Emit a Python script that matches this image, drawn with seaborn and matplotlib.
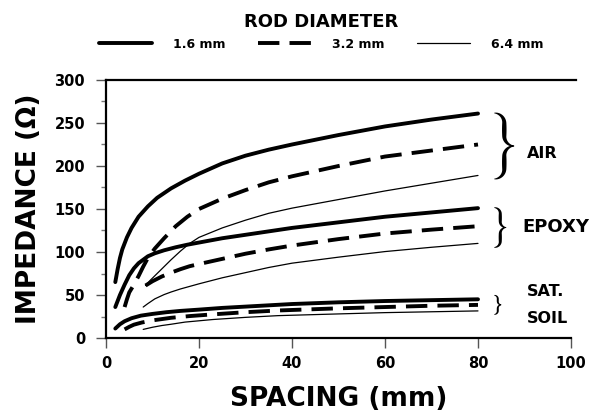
import numpy as np
import pandas as pd
import matplotlib
matplotlib.use("Agg")
import matplotlib.pyplot as plt
import seaborn as sns
from matplotlib.lines import Line2D
from matplotlib.ticker import MultipleLocator

# ---------------- data ----------------
media = ["AIR", "EPOXY", "SAT. SOIL"]
diameters = ["1.6 mm", "3.2 mm", "6.4 mm"]

air_16_x = [2, 2.5, 3, 3.5, 4.5, 5.5, 7, 9, 11, 14, 17, 20, 25, 30, 35, 40, 50, 60, 70, 80]
air_16_y = [65, 80, 93, 103, 117, 128, 141, 153, 163, 174, 183, 191, 203, 212, 219, 225, 236, 246, 254, 261]
air_32_x = [4, 4.5, 5, 6, 7, 8, 9, 10.5, 12.5, 15, 17.5, 20, 25, 30, 35, 40, 50, 60, 70, 80]
air_32_y = [36, 45, 53, 62, 72, 83, 93, 104, 116, 130, 141, 150, 162, 172, 181, 188, 200, 211, 218, 225]
air_64_x = [8.5, 9.5, 11, 12.5, 14, 16, 18, 20, 25, 30, 35, 40, 50, 60, 70, 80]
air_64_y = [61, 67, 75, 83, 91, 101, 110, 117, 128, 137, 145, 151, 161, 171, 180, 189]

epoxy_16_x = [2, 3, 4, 5, 6, 7, 8, 9, 10.5, 12.5, 15, 17.5, 20, 25, 30, 35, 40, 50, 60, 70, 80]
epoxy_16_y = [36, 50, 62, 73, 81, 87, 91, 95, 98.5, 102, 105.5, 108.5, 111, 116, 120, 124, 128, 134.5, 141, 146, 151]
epoxy_32_x = [8.5, 10, 12, 14, 16, 18, 20, 25, 30, 35, 40, 50, 60, 70, 80]
epoxy_32_y = [61, 66, 71.5, 76, 80, 83.5, 86, 92, 98, 103, 107.5, 115, 121.5, 126, 130]
epoxy_64_x = [8, 9, 10.5, 12.5, 14, 16, 18, 20, 25, 30, 35, 40, 50, 60, 70, 80]
epoxy_64_y = [36, 40, 45.5, 50.5, 53.5, 57, 60, 63, 70, 76, 82, 87, 94, 100.5, 105.5, 110]

soil_16_x = [2, 3, 4, 5.5, 7.5, 10, 13, 16, 20, 25, 30, 40, 50, 60, 70, 80]
soil_16_y = [11, 16, 19.5, 23, 26, 28, 30, 31.5, 33, 35, 36.5, 39.5, 41.5, 43, 44, 45]
soil_32_x = [4, 5, 6, 7.7, 10, 14, 18, 23, 30, 37, 50, 60, 70, 80]
soil_32_y = [10, 13, 15.5, 18, 20.5, 23.5, 25.5, 27.5, 30, 32, 34.5, 36, 37.5, 38.5]
soil_64_x = [8, 10, 12, 14, 17, 20, 23, 30, 37, 50, 60, 70, 80]
soil_64_y = [10, 12.5, 14.5, 16, 18.5, 20, 21.5, 24, 26, 28, 29.5, 30.5, 31.5]

x_ticks = [0, 20, 40, 60, 80, 100]
y_ticks = [0, 50, 100, 150, 200, 250, 300]

series = {
    ("AIR", "1.6 mm"): (air_16_x, air_16_y),
    ("AIR", "3.2 mm"): (air_32_x, air_32_y),
    ("AIR", "6.4 mm"): (air_64_x, air_64_y),
    ("EPOXY", "1.6 mm"): (epoxy_16_x, epoxy_16_y),
    ("EPOXY", "3.2 mm"): (epoxy_32_x, epoxy_32_y),
    ("EPOXY", "6.4 mm"): (epoxy_64_x, epoxy_64_y),
    ("SAT. SOIL", "1.6 mm"): (soil_16_x, soil_16_y),
    ("SAT. SOIL", "3.2 mm"): (soil_32_x, soil_32_y),
    ("SAT. SOIL", "6.4 mm"): (soil_64_x, soil_64_y),
}

rows = []
for (m, d), (xs, ys) in series.items():
    for xv, yv in zip(xs, ys):
        rows.append({"medium": m, "diameter": d, "spacing": xv, "impedance": yv})
df = pd.DataFrame(rows)
df["unit"] = df["medium"] + " " + df["diameter"]

# ---------------- style ----------------
sns.set_theme(style="ticks")
plt.rcParams["font.family"] = ["DejaVu Sans"]
plt.rcParams["font.weight"] = "bold"
plt.rcParams["text.color"] = "black"
plt.rcParams["axes.labelcolor"] = "black"
plt.rcParams["xtick.labelcolor"] = "black"
plt.rcParams["ytick.labelcolor"] = "black"

W, H = 599, 419
fig = plt.figure(figsize=(W / 100, H / 100), dpi=100)
ax = fig.add_axes([106 / W, 1 - 338 / H, (571 - 106) / W, (338 - 80) / H])

sizes = {"1.6 mm": 2.8, "3.2 mm": 2.8, "6.4 mm": 0.9}
dash_map = {"1.6 mm": "", "3.2 mm": (5.5, 2.6), "6.4 mm": ""}

sns.lineplot(data=df, x="spacing", y="impedance", units="unit", estimator=None,
             style="diameter", style_order=diameters, dashes=dash_map,
             size="diameter", size_order=diameters, sizes=sizes,
             color="black", legend=False, ax=ax)
for ln in ax.get_lines():
    ln.set_solid_joinstyle("round")
    ln.set_dash_joinstyle("round")

ax.set_xlim(0, 100)
ax.set_ylim(0, 300)
ax.set_xticks(x_ticks)
ax.set_yticks(y_ticks)
ax.yaxis.set_minor_locator(MultipleLocator(25))
ax.tick_params(axis="both", which="major", length=7, width=1.0, color="#555555",
               labelsize=10.5, direction="out", labelcolor="black")
ax.tick_params(axis="y", which="major", pad=8)
ax.tick_params(axis="x", which="major", pad=6)
ax.tick_params(axis="y", which="minor", length=3.6, width=1.0, color="#777777",
               direction="out")
for lab in ax.get_xticklabels() + ax.get_yticklabels():
    lab.set_fontweight("bold")

for side in ["left", "bottom", "top"]:
    ax.spines[side].set_linewidth(1.6)
    ax.spines[side].set_color("black")
ax.spines["right"].set_visible(False)
ax.spines["top"].set_bounds(0, 101)

ax.set_xlabel("SPACING (mm)", fontsize=19, fontweight="bold", labelpad=11)
ax.set_ylabel("IMPEDANCE (\u03a9)", fontsize=19, fontweight="bold", labelpad=9)


# ---------------- braces ----------------
def draw_brace(ax, x_left, y_lo, y_hi, width_px, tmax, pad_lo, pad_hi, tmin=0.6):
    trans = ax.transData
    px0, p_lo = trans.transform((x_left, y_lo))
    _, p_hi = trans.transform((x_left, y_hi))
    p_lo -= pad_lo
    p_hi += pad_hi
    ym = (p_lo + p_hi) / 2.0
    r = width_px / 2.0
    a1 = np.linspace(np.pi / 2, 0, 30)
    arc1 = np.column_stack([px0 + r * np.cos(a1), p_hi - r + r * np.sin(a1)])
    vert = np.column_stack([np.full(20, px0 + r), np.linspace(p_hi - r, ym + r, 20)])
    a2 = np.linspace(np.pi, 1.5 * np.pi, 30)
    arc2 = np.column_stack([px0 + 2 * r + r * np.cos(a2), ym + r + r * np.sin(a2)])
    top = np.vstack([arc1, vert[1:], arc2[1:]])
    seg = np.sqrt((np.diff(top, axis=0) ** 2).sum(axis=1))
    s = np.concatenate([[0], np.cumsum(seg)])
    s /= s[-1]
    thick = tmin + (tmax - tmin) * np.sin(np.pi * s) ** 0.9
    bot = top.copy()
    bot[:, 1] = 2 * ym - bot[:, 1]
    center = np.vstack([top, bot[::-1][1:]])
    th = np.concatenate([thick, thick[::-1][1:]])
    d = np.gradient(center, axis=0)
    n = np.column_stack([-d[:, 1], d[:, 0]])
    n /= np.linalg.norm(n, axis=1)[:, None] + 1e-9
    left = center + n * th[:, None] / 2
    right = center - n * th[:, None] / 2
    poly = np.vstack([left, right[::-1]])
    data_poly = trans.inverted().transform(poly)
    ax.fill(data_poly[:, 0], data_poly[:, 1], color="black", lw=0, clip_on=False)


brace_x = 83.5
# width px, max thickness px, pad below px, pad above px
brace_specs = {"AIR": (20, 4.5, 3.5, 0.5), "EPOXY": (12, 3.2, 4, 0.5),
               "SAT. SOIL": (7, 2.0, 3.5, 4)}
for m in media:
    ends = [series[(m, d)][1][-1] for d in diameters]
    wpx, tmax, plo, phi = brace_specs[m]
    draw_brace(ax, brace_x, min(ends), max(ends), wpx, tmax, plo, phi)

ax.text(90.5, 215, "AIR", fontsize=11.5, fontweight="bold", ha="left", va="center")
ax.text(89.6, 128.5, "EPOXY", fontsize=13, fontweight="bold", ha="left", va="center")
ax.text(90.5, 54, "SAT.", fontsize=11.5, fontweight="bold", ha="left", va="center")
ax.text(90.5, 23, "SOIL", fontsize=11.5, fontweight="bold", ha="left", va="center")

# ---------------- legend ----------------
handles = []
for d in diameters:
    h = Line2D([], [], color="black", lw=sizes[d], linestyle="-")
    if dash_map[d]:
        h.set_dashes(dash_map[d])
    handles.append(h)
leg = fig.legend(handles, diameters, loc="upper center", bbox_to_anchor=(0.536, 0.995),
                 ncol=3, frameon=False, title="ROD DIAMETER",
                 title_fontproperties={"weight": "bold", "size": 13},
                 prop={"weight": "bold", "size": 9},
                 handlelength=4.27, handletextpad=1.7, columnspacing=2.55)
for t in leg.get_texts():
    t.set_color("black")
leg.get_title().set_color("black")

fig.savefig("out.png", dpi=100)
